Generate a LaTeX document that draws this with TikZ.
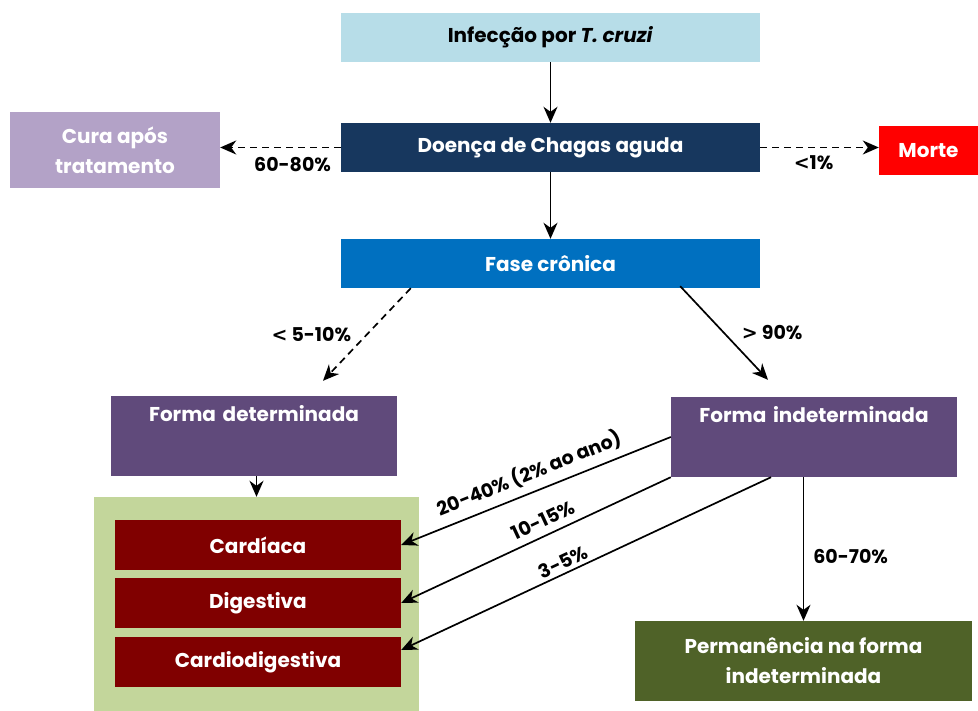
\documentclass[tikz,border=0pt]{standalone}
\usepackage{fontspec}
\setmainfont{Poppins}
\newfontfamily\simb{DejaVu Sans}
\usetikzlibrary{arrows.meta,calc}
\definecolor{azulclaro}{HTML}{B7DDE8}
\definecolor{azulescuro}{HTML}{17375E}
\definecolor{azul}{HTML}{0070C0}
\definecolor{lilas}{HTML}{B3A2C7}
\definecolor{roxo}{HTML}{604A7B}
\definecolor{vinho}{HTML}{800000}
\definecolor{verdeclaro}{HTML}{C3D69B}
\definecolor{verdeescuro}{HTML}{4F6228}
\newcommand{\menor}{{\simb\bfseries <}}
\newcommand{\maior}{{\simb\bfseries >}}
\tikzset{
	caixa/.style={fill=#1, text=white, inner sep=0pt, align=center,
		font=\bfseries\fontsize{20}{30}\selectfont},
	rotulo/.style={font=\bfseries\fontsize{19}{20}\selectfont, inner sep=1pt},
	seta/.style={-{Stealth[length=16pt,width=14pt,inset=5pt]}, line width=1.7pt},
	tracejada/.style={seta, dash pattern=on 7pt off 5pt}
}
\begin{document}
\begin{tikzpicture}[x=1pt, y=-1pt]
\useasboundingbox (0,0) rectangle (978,711);
% fase aguda
\node[caixa=azulclaro, text=black, minimum width=419pt, minimum height=49pt] (infec) at (550.5, 37.5) {Infecção por \textit{T. cruzi}};
\node[caixa=azulescuro, minimum width=419pt, minimum height=49pt] (aguda) at (550.5, 147.5) {Doença de Chagas aguda};
\node[caixa=lilas, minimum width=210pt, minimum height=76pt] (cura) at (115, 150) {Cura após\\tratamento};
\node[caixa=red, minimum width=99pt, minimum height=49pt] (morte) at (928.5, 150.5) {Morte};
\node[caixa=azul, minimum width=419pt, minimum height=49pt] (cronica) at (550.5, 263.5) {Fase crônica};
% formas
\node[caixa=roxo, minimum width=286pt, text height=26pt, text depth=54pt, text width=286pt] (determ) at (254, 436) {Forma determinada};
\node[caixa=roxo, minimum width=286pt, text height=26pt, text depth=54pt, text width=286pt] (indet) at (814, 437) {Forma indeterminada};
\node[fill=verdeclaro, minimum width=325pt, minimum height=214pt, inner sep=0pt] (grupo) at (256.5, 604) {};
\node[caixa=vinho, minimum width=286pt, minimum height=50pt] (card) at (258, 545) {Cardíaca};
\node[caixa=vinho, minimum width=286pt, minimum height=50pt] (dig) at (258, 603) {Digestiva};
\node[caixa=vinho, minimum width=286pt, minimum height=50pt] (cardig) at (258, 662) {Cardiodigestiva};
\node[caixa=verdeescuro, minimum width=337pt, minimum height=80pt] (perm) at (803.5, 661) {Permanência na forma\\indeterminada};
% setas
\draw[seta] (infec) -- (aguda);
\draw[seta] (aguda) -- (cronica);
\draw[tracejada] (aguda.west) -- (aguda.west -| cura.east) node[rotulo, pos=0.4, below=8pt] {60-80\%};
\draw[tracejada] (aguda.east) -- (aguda.east -| morte.west) node[rotulo, pos=0.45, below=6pt] {\menor1\%};
\coordinate (A0) at ($(cronica.south west)+(70,0)$);
\coordinate (B0) at ($(determ.north)+(69,-15)$);
\draw[tracejada] (A0) -- (B0) node[rotulo, midway, left=14pt] {\menor{} 5-10\%};
\coordinate (C0) at ($(cronica.south east)+(-80,-2)$);
\coordinate (D0) at ($(indet.north)+(-46,-17)$);
\draw[seta] (C0) -- (D0) node[rotulo, midway, right=16pt] {\maior{} 90\%};
\draw[seta] (determ.south -| grupo.north) -- (grupo.north);
\draw[seta] (indet.south -| perm.north) -- (perm.north) node[rotulo, pos=0.55, right=8pt] {60-70\%};
\draw[seta] (indet.west) -- (card.east) node[rotulo, pos=0.5, above=6pt, sloped] {20-40\% (2\% ao ano)};
\draw[seta] (indet.south west) -- (dig.east) node[rotulo, pos=0.45, above=6pt, sloped] {10-15\%};
\draw[seta] ($(indet.south west)!0.35!(indet.south east)$) -- ($(cardig.east)+(0,-12)$) node[rotulo, pos=0.55, above=2pt, sloped] {3-5\%};
\end{tikzpicture}
\end{document}
